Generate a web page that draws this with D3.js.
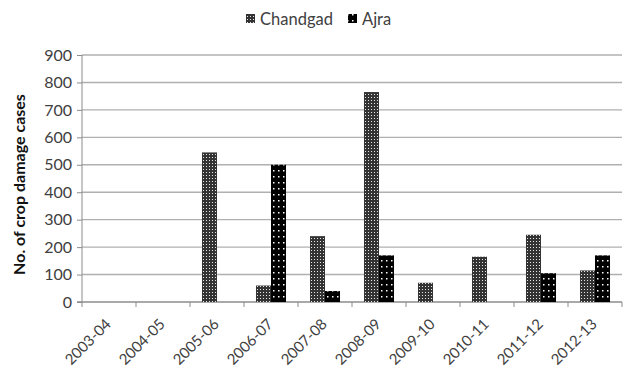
<!DOCTYPE html>
<html>
<head>
<meta charset="utf-8">
<script src="https://cdn.jsdelivr.net/npm/d3@7"></script>
<style>
  body { margin: 0; background: #fff; }
  svg { display: block; }
  text { font-family: Lato, "Open Sans", sans-serif; }
</style>
</head>
<body>
<svg id="chart" width="625" height="372"></svg>
<script>
// Crop damage cases per year, by taluka
const years = ["2003-04","2004-05","2005-06","2006-07","2007-08","2008-09","2009-10","2010-11","2011-12","2012-13"];
const chandgad = [0, 0, 545, 60, 240, 765, 70, 165, 245, 115];
const ajra     = [0, 0, 0, 500, 40, 170, 0, 0, 105, 170];
const seriesNames = ["Chandgad", "Ajra"];
const yTicks = [0,100,200,300,400,500,600,700,800,900];

const svg = d3.select("#chart");
const margin = {left: 82, right: 3, top: 55, bottom: 70};
const W = 625, H = 372;

// fill patterns for the two series
const defs = svg.append("defs");
const pC = defs.append("pattern").attr("id", "pat-chandgad")
  .attr("width", 3).attr("height", 3).attr("patternUnits", "userSpaceOnUse");
pC.append("rect").attr("width", 3).attr("height", 3).attr("fill", "#333");
pC.append("rect").attr("x", 1).attr("y", 1).attr("width", 1).attr("height", 1).attr("fill", "#e8e8e8");
const pA = defs.append("pattern").attr("id", "pat-ajra")
  .attr("width", 5).attr("height", 6).attr("patternUnits", "userSpaceOnUse");
pA.append("rect").attr("width", 5).attr("height", 6).attr("fill", "#000");
pA.append("rect").attr("x", 2).attr("y", 2).attr("width", 1.5).attr("height", 1.5).attr("fill", "#fff");
const fills = ["url(#pat-chandgad)", "url(#pat-ajra)"];

const x = d3.scaleBand().domain(years).range([margin.left, W - margin.right]).paddingInner(0.444).paddingOuter(0.222);
const xs = d3.scaleBand().domain(seriesNames).range([0, x.bandwidth()]);
const y = d3.scaleLinear().domain([0, 900]).range([H - margin.bottom, margin.top]);

// gridlines
svg.append("g").selectAll("line").data(yTicks.filter(d => d > 0)).join("line")
  .attr("x1", margin.left).attr("x2", W - margin.right)
  .attr("y1", d => y(d)).attr("y2", d => y(d))
  .attr("stroke", "#b0b0b0").attr("stroke-width", 1.4);

// y axis
const yAxis = svg.append("g").attr("transform", `translate(${margin.left},0)`)
  .call(d3.axisLeft(y).tickValues(yTicks).tickSize(5).tickPadding(5));
yAxis.select(".domain").attr("stroke", "#8c8c8c").attr("d", `M0,${y(0)}V${y(900)}`);
yAxis.selectAll(".tick line").attr("stroke", "#8c8c8c");
yAxis.selectAll("text").attr("font-size", 16).attr("fill", "#404040")
  .style("font-family", "Lato, sans-serif");

// x axis with boundary ticks
const xAxisG = svg.append("g").attr("transform", `translate(0,${y(0)})`);
xAxisG.append("line").attr("x1", margin.left - 5).attr("x2", W - margin.right)
  .attr("stroke", "#8c8c8c").attr("stroke-width", 1.3);
const step = x.step();
const bounds = d3.range(years.length + 1).map(i => margin.left + i * step);
xAxisG.selectAll("line.b").data(bounds).join("line").attr("class", "b")
  .attr("x1", d => d).attr("x2", d => d).attr("y1", 0).attr("y2", 5)
  .attr("stroke", "#8c8c8c");
xAxisG.selectAll("text").data(years).join("text")
  .attr("transform", d => `translate(${x(d) + x.bandwidth() / 2 + 3},23) rotate(-45)`)
  .attr("text-anchor", "end")
  .attr("font-size", 15).attr("fill", "#404040").text(d => d);

// bars
const data = years.map((yr, i) => ({yr, vals: [chandgad[i], ajra[i]]}));
const groups = svg.append("g").selectAll("g").data(data).join("g")
  .attr("transform", d => `translate(${x(d.yr)},0)`);
groups.selectAll("rect").data(d => d.vals.map((v, j) => ({v, j}))).join("rect")
  .attr("x", d => xs(seriesNames[d.j]))
  .attr("width", xs.bandwidth())
  .attr("y", d => y(d.v))
  .attr("height", d => y(0) - y(d.v))
  .attr("fill", d => fills[d.j]);

// y-axis title
svg.append("text")
  .attr("transform", `translate(25,${(y(0) + y(900)) / 2 + 6}) rotate(-90)`)
  .attr("text-anchor", "middle").attr("font-size", 16).attr("font-weight", "bold")
  .attr("fill", "#111").text("No. of crop damage cases");

// legend
const legend = svg.append("g");
const lx = [246, 348];
seriesNames.forEach((n, i) => {
  legend.append("rect").attr("x", lx[i]).attr("y", 14).attr("width", 9).attr("height", 9)
    .attr("fill", fills[i]);
  legend.append("text").attr("x", lx[i] + 14).attr("y", 24.5)
    .attr("font-size", 16.5).attr("fill", "#404040").text(n);
});
</script>
</body>
</html>
